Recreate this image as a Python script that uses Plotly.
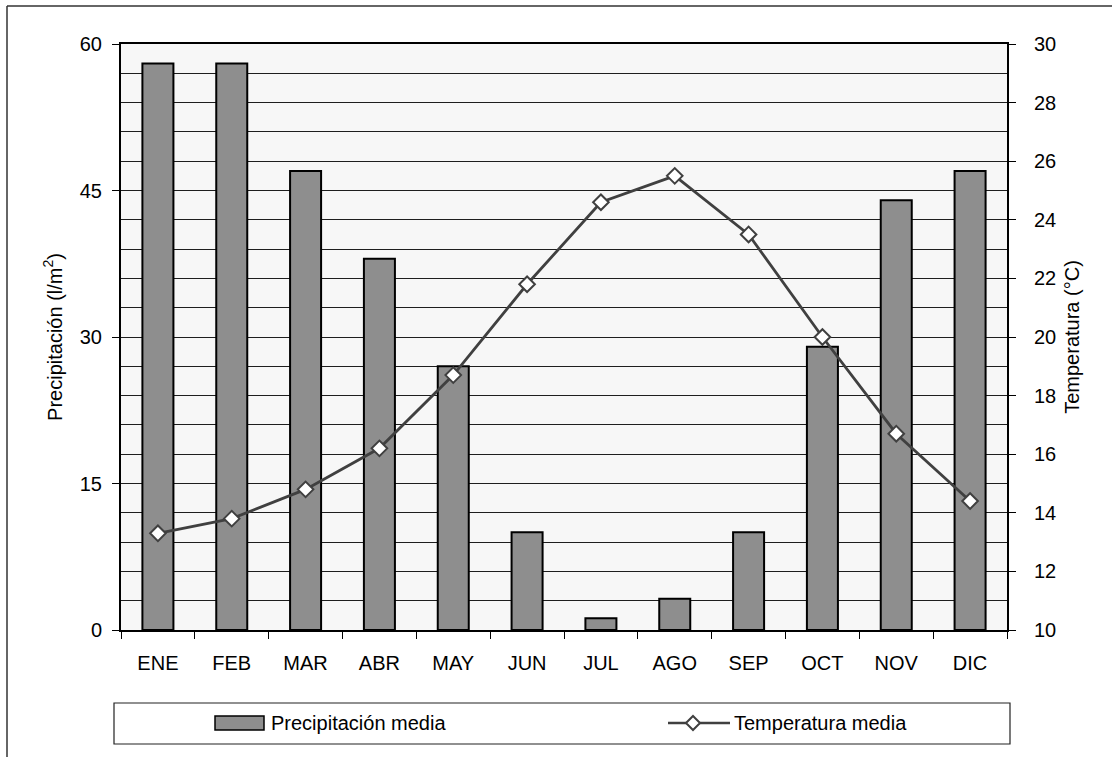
import plotly.graph_objects as go

months = ["ENE", "FEB", "MAR", "ABR", "MAY", "JUN", "JUL", "AGO", "SEP", "OCT", "NOV", "DIC"]
precip = [58, 58, 47, 38, 27, 10, 1.2, 3.2, 10, 29, 44, 47]
temp = [13.3, 13.8, 14.8, 16.2, 18.7, 21.8, 24.6, 25.5, 23.5, 20.0, 16.7, 14.4]

precip_ticks = [0, 15, 30, 45, 60]
temp_ticks = list(range(10, 31, 2))

FONT = "Liberation Sans, Arial, sans-serif"
W, H = 1112, 757
L, R, T, B = 121, 1007, 44, 630  # plot area in pixels

def px(x):
    return (x - L) / (R - L)

def py(y):
    return (B - y) / (B - T)

fig = go.Figure()
fig.add_trace(go.Bar(
    x=months, y=precip, name="Precipitación media",
    marker=dict(color="#8e8e8e", line=dict(color="#000000", width=2)),
    showlegend=False,
))
fig.add_trace(go.Scatter(
    x=months, y=temp, name="Temperatura media", yaxis="y2",
    mode="lines+markers",
    line=dict(color="#404040", width=2.8),
    marker=dict(symbol="diamond", size=12, color="#ffffff",
                line=dict(color="#404040", width=2)),
    showlegend=False,
))

shapes = []
# outer frame (top and left edges visible)
shapes.append(dict(type="line", xref="paper", yref="paper",
                   x0=px(7), x1=px(1112), y0=py(6), y1=py(6),
                   line=dict(color="#333333", width=1.5)))
shapes.append(dict(type="line", xref="paper", yref="paper",
                   x0=px(7), x1=px(7), y0=py(6), y1=py(757),
                   line=dict(color="#333333", width=1.5)))
# legend box
shapes.append(dict(type="rect", xref="paper", yref="paper",
                   x0=px(114), x1=px(1010), y0=py(744), y1=py(703),
                   line=dict(color="#222222", width=1.2), fillcolor="#ffffff"))
# bar swatch
shapes.append(dict(type="rect", xref="paper", yref="paper",
                   x0=px(215), x1=px(264), y0=py(730), y1=py(716),
                   line=dict(color="#000000", width=1.5), fillcolor="#8e8e8e"))
# line swatch
shapes.append(dict(type="line", xref="paper", yref="paper",
                   x0=px(668), x1=px(730), y0=py(723), y1=py(723),
                   line=dict(color="#404040", width=2.5)))
cx, cy, d = 693, 723, 7
shapes.append(dict(type="path", xref="paper", yref="paper",
                   path=f"M {px(cx-d)},{py(cy)} L {px(cx)},{py(cy-d)} L {px(cx+d)},{py(cy)} L {px(cx)},{py(cy+d)} Z",
                   line=dict(color="#404040", width=2), fillcolor="#ffffff"))

annotations = [
    dict(text="Precipitación media", xref="paper", yref="paper",
         x=px(269), y=py(723), xanchor="left", yanchor="middle",
         showarrow=False, font=dict(family=FONT, size=20, color="#000")),
    dict(text="Temperatura media", xref="paper", yref="paper",
         x=px(732), y=py(723), xanchor="left", yanchor="middle",
         showarrow=False, font=dict(family=FONT, size=20, color="#000")),
]

fig.update_layout(
    width=W, height=H,
    margin=dict(l=L, r=W - R, t=T, b=H - B),
    paper_bgcolor="#ffffff",
    plot_bgcolor="#f7f7f7",
    bargap=0.58,
    font=dict(family=FONT, size=20, color="#000000"),
    shapes=shapes,
    annotations=annotations,
    xaxis=dict(
        type="category", range=[-0.5, len(months) - 0.5],
        showline=True, linecolor="#000000", linewidth=2,
        mirror=True, ticks="outside", tickson="boundaries", ticklen=7,
        tickcolor="#000000", tickwidth=1, showgrid=False,
        tickfont=dict(size=20), ticklabelstandoff=14,
    ),
    yaxis=dict(
        range=[0, 60], tickvals=precip_ticks, showline=True,
        linecolor="#000000", linewidth=2, ticks="outside", ticklen=7,
        tickcolor="#000000", showgrid=True, gridcolor="#1e1e1e", gridwidth=1.2,
        minor=dict(dtick=3, showgrid=True, gridcolor="#1e1e1e", gridwidth=1.2),
        zeroline=False, tickfont=dict(size=20), ticklabelstandoff=6,
        title=dict(text="Precipitación (l/m<sup>2</sup>)", font=dict(size=20), standoff=12),
    ),
    yaxis2=dict(
        range=[10, 30], tickvals=temp_ticks, overlaying="y", side="right",
        showline=True, linecolor="#000000", linewidth=2, ticks="outside",
        ticklen=7, tickcolor="#000000", showgrid=False, zeroline=False,
        tickfont=dict(size=20), ticklabelstandoff=14,
        title=dict(text="Temperatura (°C)", font=dict(size=20), standoff=10),
    ),
)

fig.write_html("out.html")
